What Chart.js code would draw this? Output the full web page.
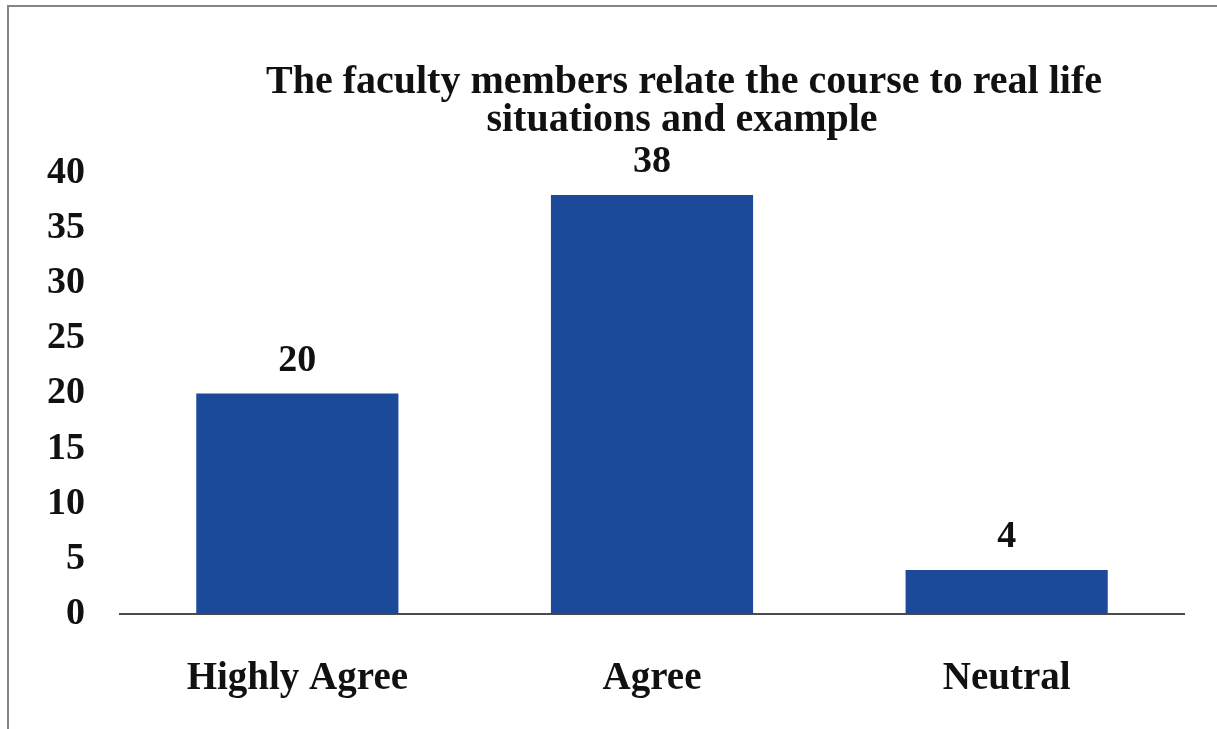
<!DOCTYPE html>
<html>
<head>
<meta charset="UTF-8">
<title>Faculty members relate course</title>
<style>
  body { margin: 0; background: #fff; }
  #frame { position: absolute; left: 7px; top: 5px; width: 1215px; height: 730px;
           border-left: 2px solid #858585; border-top: 2px solid #858585; }
  #wrap { position: absolute; left: 0; top: 0; width: 1217px; height: 729px; }
</style>
</head>
<body>
<div id="frame"></div>
<div id="wrap"><canvas id="myChart"></canvas></div>
<script src="https://cdn.jsdelivr.net/npm/chart.js@4/dist/chart.umd.min.js"></script>
<script>
  const categories = ['Highly Agree', 'Agree', 'Neutral']
  const responses = [20, 38, 4]
  const titleLines = ['The faculty members relate the course to real life', 'situations and example']
  const yTicks = [0, 5, 10, 15, 20, 25, 30, 35, 40]

  const serif = '"Liberation Serif", "Times New Roman", serif'

  // title sits off-centre in the original, so draw it ourselves
  const titlePlugin = {
    id: 'offTitle',
    afterDraw(chart) {
      const ctx = chart.ctx
      ctx.save()
      ctx.font = 'bold 40px ' + serif
      ctx.fillStyle = '#111'
      ctx.textAlign = 'center'
      ctx.textBaseline = 'alphabetic'
      ctx.fillText(titleLines[0], 684, 93)
      ctx.fillText(titleLines[1], 682, 131)
      ctx.restore()
    }
  }

  const valueLabels = {
    id: 'valueLabels',
    afterDatasetsDraw(chart) {
      const ctx = chart.ctx
      const meta = chart.getDatasetMeta(0)
      ctx.save()
      ctx.font = 'bold 38px ' + serif
      ctx.fillStyle = '#111'
      ctx.textAlign = 'center'
      ctx.textBaseline = 'alphabetic'
      meta.data.forEach(function (bar, i) {
        ctx.fillText(responses[i], bar.x, bar.y - 23)
      })
      ctx.restore()
    }
  }

  // tick padding is reserved twice by the layout, so the gap is made with an invisible tick mark instead
  new Chart(document.getElementById('myChart'), {
    type: 'bar',
    data: {
      labels: categories,
      datasets: [{
        data: responses,
        backgroundColor: '#1b4a9b',
        borderWidth: 0,
        barPercentage: 0.57,
        categoryPercentage: 1
      }]
    },
    options: {
      responsive: true,
      maintainAspectRatio: false,
      animation: false,
      layout: { padding: { top: 173, left: 47, right: 33, bottom: 27 } },
      plugins: { legend: { display: false }, title: { display: false }, tooltip: { enabled: false } },
      scales: {
        x: {
          grid: { display: true, drawOnChartArea: false, drawTicks: true, tickLength: 41, color: 'rgba(0,0,0,0)' },
          border: { display: true, color: '#4a4a4a', width: 2 },
          ticks: { color: '#111', padding: 0, font: { family: serif, size: 39, weight: 'bold' } }
        },
        y: {
          min: 0, max: 40,
          afterBuildTicks(axis) { axis.ticks = yTicks.map(v => ({ value: v })) },
          grid: { display: true, drawOnChartArea: false, drawTicks: true, tickLength: 35, color: 'rgba(0,0,0,0)' },
          border: { display: false },
          ticks: { color: '#111', padding: 0, autoSkip: false, font: { family: serif, size: 38, weight: 'bold' } }
        }
      }
    },
    plugins: [titlePlugin, valueLabels]
  })
</script>
</body>
</html>
